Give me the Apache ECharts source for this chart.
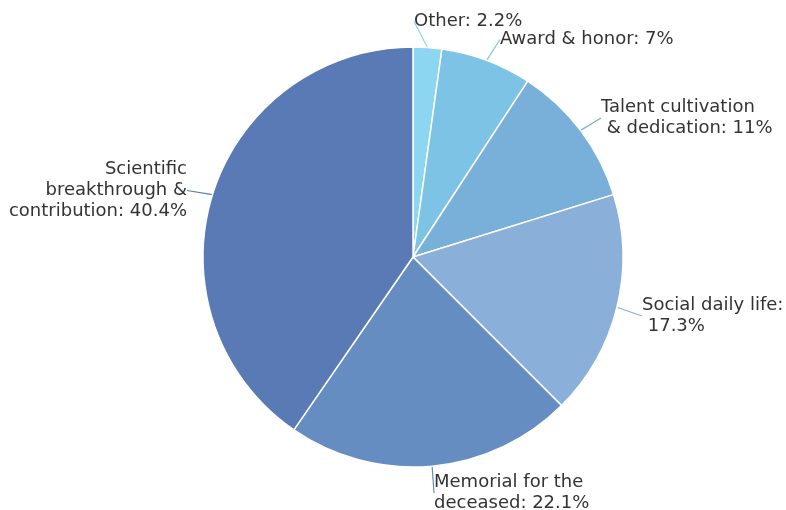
<!DOCTYPE html>
<html><head><meta charset="utf-8">
<script src="https://cdn.jsdelivr.net/npm/echarts@6/dist/echarts.min.js"></script>
<style>html,body{margin:0;padding:0;background:#fff}#c{width:786px;height:510px}</style>
</head><body><div id="c"></div>
<script>
const categories = ['Other', 'Award & honor', 'Talent cultivation\n & dedication', 'Social daily life:\n', 'Memorial for the\ndeceased', 'Scientific\nbreakthrough &\ncontribution'];
const values = [2.2, 7, 11, 17.3, 22.1, 40.4];
const colors = ['#8dd6f2', '#7dc3e6', '#78b0da', '#8aafd8', '#658dc2', '#5a7ab5'];
// label anchor positions (text box top-left / top-right) and alignment
const labelPos = [
  {x: 414, y: 11, align: 'left'},
  {x: 500, y: 29, align: 'left'},
  {x: 601, y: 97, align: 'left'},
  {x: 642, y: 295, align: 'left'},
  {x: 434, y: 472, align: 'left'},
  {x: 187, y: 159, align: 'right'}
];
const chart = echarts.init(document.getElementById('c'));
chart.setOption({
  animation: false,
  series: [{
    type: 'pie',
    center: [413, 257],
    radius: [0, 210],
    startAngle: 90,
    clockwise: true,
    data: categories.map((c, i) => ({name: c, value: values[i], itemStyle: {color: colors[i]}})),
    itemStyle: {borderColor: '#fff', borderWidth: 1.5},
    label: {
      show: true,
      position: 'outside',
      overflow: 'none',
      edgeDistance: 0,
      formatter: p => {
        const n = p.name;
        if (n.endsWith(':\n')) return n + ' ' + p.value + '%';
        return n + ': ' + p.value + '%';
      },
      color: '#333333',
      fontFamily: 'DejaVu Sans',
      fontSize: 18,
      lineHeight: 21
    },
    labelLine: {show: true, length: 1, length2: 0, smooth: false, lineStyle: {width: 1.2}},
    labelLayout: p => {
      const lp = labelPos[p.dataIndex];
      return {x: lp.x, y: lp.y, align: lp.align, verticalAlign: 'top'};
    }
  }]
});
</script></body></html>
